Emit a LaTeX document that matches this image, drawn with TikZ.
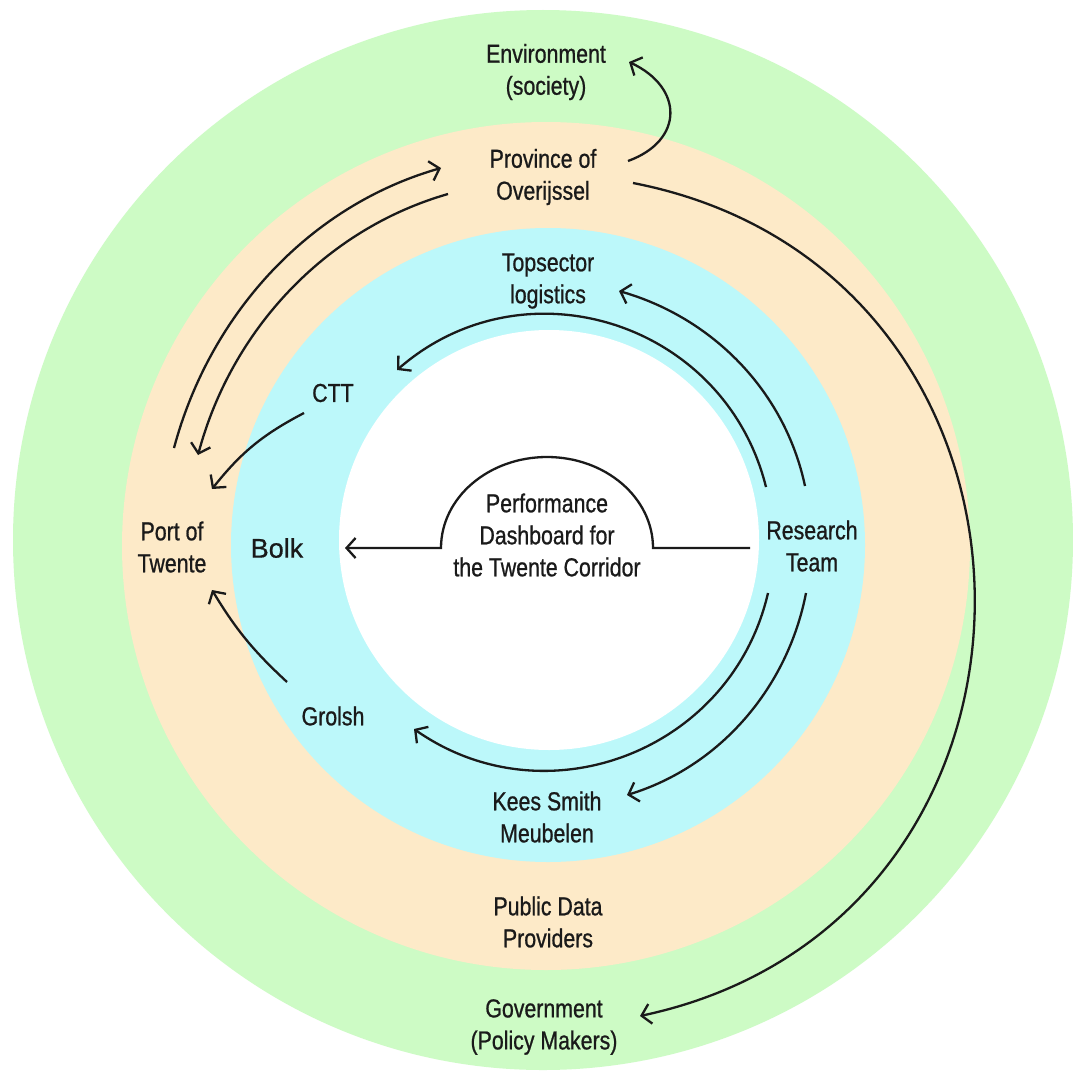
\documentclass[tikz,border=0pt]{standalone}
\usepackage{fontspec}
\setmainfont{Liberation Sans}[FakeStretch=0.82,FakeBold=0.8]
\newfontfamily\bolkfont{Liberation Sans}[FakeBold=0.6]
\usetikzlibrary{arrows.meta}
\definecolor{ringgreen}{RGB}{205,251,197}
\definecolor{ringpeach}{RGB}{253,234,200}
\definecolor{ringcyan}{RGB}{188,248,250}
\definecolor{inkc}{RGB}{26,26,26}
\begin{document}
\begin{tikzpicture}[x=1pt,y=1pt,
  lbl/.style={align=center,font=\fontsize{26}{32}\selectfont,text=inkc,inner sep=2pt},
  arr/.style={draw=inkc,line width=2.3pt,-{Straight Barb[length=9pt,width=20pt]}}]
\fill[white] (0,0) rectangle (1073,-1073);
\useasboundingbox (0,0) rectangle (1073,-1073);
\fill[ringgreen] (543,-540) circle[radius=530];
\fill[ringpeach] (546,-546) circle[radius=424];
\fill[ringcyan] (548,-545) circle[radius=317];
\fill[white] (549,-540) circle[radius=210];

\node[lbl] (env) at (546,-72) {Environment\\(society)};
\node[lbl] (prov) at (543,-177) {Province of\\Overijssel};
\node[lbl] (top) at (548,-281) {Topsector\\logistics};
\node[lbl] (ctt) at (333,-393) {CTT};
\node[lbl] (port) at (172,-547) {Port of\\Twente};
\node[lbl,font=\bolkfont\fontsize{27}{32}\selectfont] (bolk) at (277,-548) {Bolk};
\node[lbl] (perf) at (547,-535) {Performance\\Dashboard for\\the Twente Corridor};
\node[lbl] (research) at (812,-546) {Research\\Team};
\node[lbl] (grolsh) at (333,-716) {Grolsh};
\node[lbl] (kees) at (547,-817) {Kees Smith\\Meubelen};
\node[lbl] (public) at (548,-922) {Public Data\\Providers};
\node[lbl] (gov) at (544,-1027) {Government\\(Policy Makers)};

% outer connectors
\draw[arr] ([shift={(85,16)}]prov.center) to[out=20,in=-25,looseness=1.55] ([shift={(83,10)}]env.center);
\draw[arr] ([shift={(2,99)}]port.center) to[out=75,in=196,looseness=0.91] ([shift={(-102,9)}]prov.center);
\draw[arr] ([shift={(-95,-17)}]prov.center) to[out=196,in=75,looseness=0.91] ([shift={(26,92)}]port.center);
\draw[arr] ([shift={(90,-6)}]prov.center) to[out=-11,in=12,looseness=1.41] ([shift={(96,11)}]gov.center);

% inner connectors
\draw[arr] ([shift={(-7,60)}]research.center) to[out=102,in=-16,looseness=0.92] ([shift={(71,-10)}]top.center);
\draw[arr] ([shift={(-46,59)}]research.center) to[out=104,in=41,looseness=1.12] ([shift={(64,23)}]ctt.center);
\draw[arr] ([shift={(-44,-47)}]research.center) to[out=-103,in=-35,looseness=1.09] ([shift={(81,-13)}]grolsh.center);
\draw[arr] ([shift={(-6,-47)}]research.center) to[out=-101,in=17,looseness=0.92] ([shift={(80,22)}]kees.center);
\draw[arr] ([shift={(-29,-20)}]ctt.center) to[bend right=12] ([shift={(40,58)}]port.center);
\draw[arr] ([shift={(-46,34)}]grolsh.center) to[bend left=8] ([shift={(40,-43)}]port.center);

% dashboard
\draw[arr] ([shift={(-62,-2)}]research.center) -- ([shift={(106,-13)}]perf.center)
  arc[start angle=0,end angle=180,x radius=106,y radius=91] -- ([xshift=68]bolk.center);
\end{tikzpicture}
\end{document}
